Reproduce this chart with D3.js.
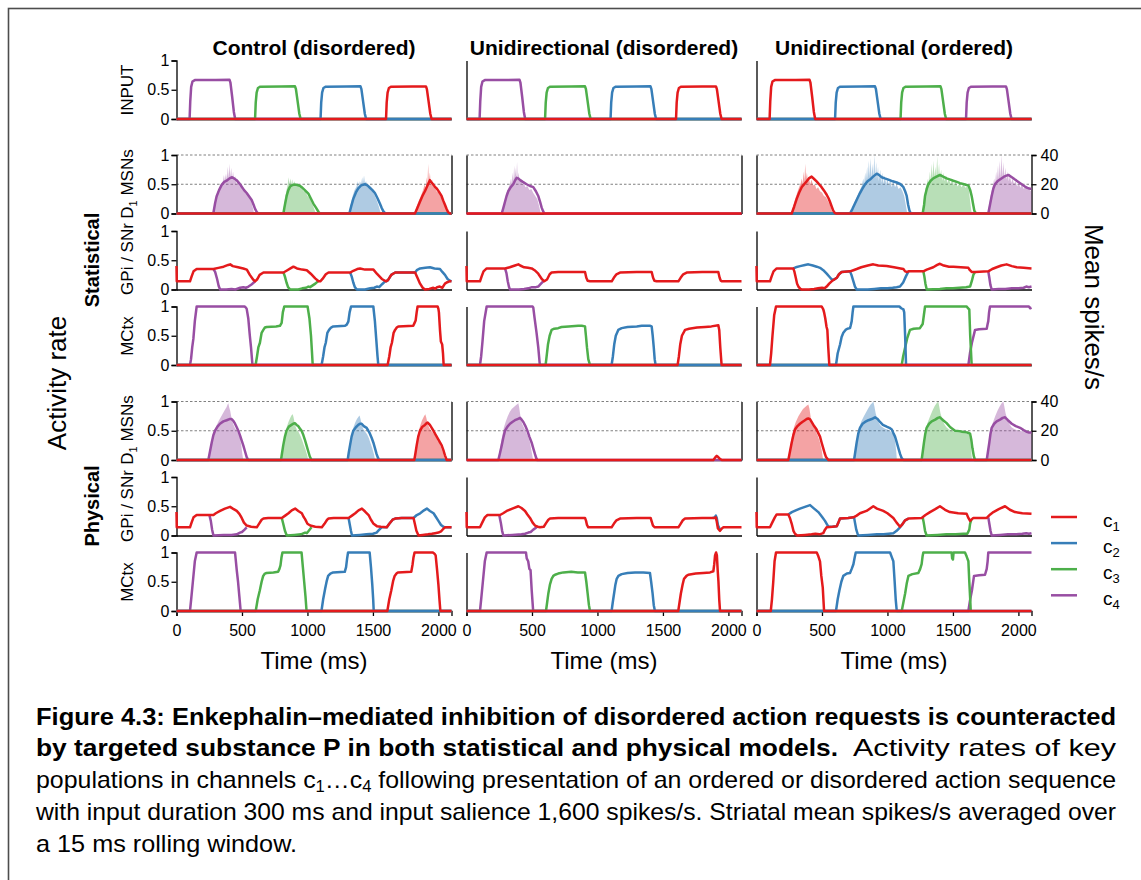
<!DOCTYPE html>
<html>
<head>
<meta charset="utf-8">
<script src="https://cdn.jsdelivr.net/npm/d3@7"></script>
<style>
  html, body { margin: 0; padding: 0; background: #fff; }
  svg { display: block; font-family: "Liberation Sans", Arial, sans-serif; }
</style>
</head>
<body>
<svg id="fig" width="1141" height="880"></svg>
<script>
// ---------- categories, ticks ----------
const channelNames = ["c1", "c2", "c3", "c4"];
const channelColors = ["#e41a1c", "#377eb8", "#4daf4a", "#984ea3"];
const columnTitles = ["Control (disordered)", "Unidirectional (disordered)", "Unidirectional (ordered)"];
const timeDomain = [0, 2100];
const timeTicks = [0, 500, 1000, 1500, 2000];
const rateTicks = [0, 0.5, 1];
const spikeTicks = [0, 20, 40];

// ---------- INPUT (activity rate, [time ms, rate]) ----------
const inCtrlC4 = [[0,0],[100,0],[105,0.3],[112,0.55],[122,0.64],[140,0.665],[300,0.668],[405,0.67],[412,0.62],[425,0.38],[438,0.12],[448,0],[2100,0]];
const inCtrlC3 = [[0,0],[600,0],[605,0.28],[612,0.45],[622,0.53],[640,0.552],[800,0.555],[905,0.558],[912,0.51],[925,0.3],[938,0.09],[948,0],[2100,0]];
const inCtrlC2 = [[0,0],[1100,0],[1105,0.28],[1112,0.45],[1122,0.53],[1140,0.552],[1300,0.556],[1405,0.558],[1412,0.51],[1425,0.3],[1438,0.09],[1448,0],[2100,0]];
const inCtrlC1 = [[0,0],[1600,0],[1605,0.28],[1612,0.45],[1622,0.53],[1640,0.552],[1800,0.555],[1905,0.557],[1912,0.51],[1925,0.3],[1938,0.09],[1948,0],[2100,0]];
const inOrdC1 = [[0,0],[100,0],[105,0.3],[112,0.55],[122,0.64],[140,0.665],[300,0.668],[405,0.67],[412,0.62],[425,0.38],[438,0.12],[448,0],[2100,0]];
const inOrdC2 = [[0,0],[600,0],[605,0.28],[612,0.45],[622,0.53],[640,0.552],[800,0.555],[905,0.558],[912,0.51],[925,0.3],[938,0.09],[948,0],[2100,0]];
const inOrdC3 = [[0,0],[1100,0],[1105,0.28],[1112,0.45],[1122,0.53],[1140,0.552],[1300,0.556],[1405,0.558],[1412,0.51],[1425,0.3],[1438,0.09],[1448,0],[2100,0]];
const inOrdC4 = [[0,0],[1600,0],[1605,0.28],[1612,0.45],[1622,0.53],[1640,0.552],[1800,0.555],[1905,0.557],[1912,0.51],[1925,0.3],[1938,0.09],[1948,0],[2100,0]];

const zeroLine = [[0,0],[2100,0]];

// ---------- Statistical model: D1 MSNs (rolling mean line + raw fill) ----------
const msnSCtrlC4 = [[0,0],[281,0],[295,0.18],[306,0.29],[325,0.4],[345,0.49],[365,0.54],[383,0.56],[405,0.6],[425,0.62],[440,0.6],[459,0.57],[478,0.52],[497,0.46],[516,0.4],[536,0.35],[555,0.29],[574,0.23],[590,0.14],[600,0.08],[612,0.03],[624,0],[2100,0]];
const msnSCtrlC3 = [[0,0],[816,0],[828,0.15],[841,0.3],[854,0.4],[867,0.46],[880,0.48],[892,0.49],[915,0.49],[935,0.48],[956,0.45],[980,0.4],[1007,0.34],[1025,0.26],[1045,0.17],[1065,0.1],[1084,0.03],[1096,0],[2100,0]];
const msnSCtrlC2 = [[0,0],[1320,0],[1335,0.13],[1350,0.25],[1370,0.36],[1388,0.43],[1410,0.48],[1439,0.5],[1458,0.48],[1477,0.44],[1496,0.4],[1515,0.35],[1535,0.26],[1553,0.17],[1568,0.09],[1579,0.04],[1596,0],[2100,0]];
const msnSCtrlC1 = [[0,0],[1821,0],[1840,0.1],[1859,0.2],[1878,0.3],[1897,0.38],[1915,0.47],[1935,0.57],[1948,0.53],[1960,0.5],[1972,0.46],[1986,0.43],[2005,0.37],[2024,0.3],[2037,0.22],[2050,0.15],[2062,0.08],[2075,0.02],[2088,0],[2100,0]];
const rawSCtrlC4 = [[275,0],[285,0.1],[300,0.25],[315,0.38],[330,0.45],[345,0.52],[355,0.55],[362,0.66],[368,0.56],[378,0.68],[384,0.58],[392,0.8],[398,0.6],[405,0.85],[410,0.62],[418,0.78],[424,0.58],[432,0.72],[440,0.55],[450,0.64],[458,0.5],[470,0.56],[480,0.46],[495,0.5],[505,0.4],[520,0.42],[530,0.34],[545,0.33],[555,0.28],[565,0.25],[575,0.17],[585,0.08],[592,0]];
const rawSCtrlC3 = [[812,0],[825,0.2],[838,0.38],[848,0.48],[856,0.62],[862,0.5],[870,0.6],[876,0.5],[884,0.58],[890,0.5],[900,0.55],[910,0.48],[925,0.52],[940,0.44],[955,0.45],[970,0.38],[985,0.38],[1000,0.3],[1015,0.27],[1030,0.2],[1045,0.12],[1058,0.04],[1064,0]];
const rawSCtrlC2 = [[1315,0],[1330,0.15],[1345,0.3],[1360,0.4],[1375,0.46],[1385,0.55],[1392,0.45],[1400,0.55],[1410,0.5],[1418,0.62],[1424,0.5],[1432,0.65],[1438,0.52],[1448,0.55],[1458,0.45],[1470,0.48],[1485,0.4],[1500,0.38],[1515,0.3],[1530,0.22],[1545,0.12],[1555,0.04],[1562,0]];
const rawSCtrlC1 = [[1815,0],[1830,0.1],[1850,0.22],[1870,0.32],[1885,0.42],[1895,0.5],[1902,0.42],[1910,0.62],[1916,0.5],[1922,0.85],[1927,0.55],[1935,0.7],[1942,0.5],[1952,0.58],[1960,0.45],[1972,0.48],[1985,0.38],[2000,0.36],[2015,0.3],[2030,0.25],[2045,0.18],[2058,0.1],[2068,0.03],[2075,0]];

const msnSUniC4 = [[0,0],[269,0],[282,0.1],[294,0.2],[306,0.3],[319,0.38],[338,0.45],[357,0.5],[370,0.56],[383,0.61],[395,0.6],[410,0.57],[430,0.54],[459,0.5],[485,0.47],[510,0.45],[530,0.38],[548,0.3],[562,0.2],[574,0.1],[585,0.04],[594,0],[2100,0]];
const rawSUniC4 = [[265,0],[280,0.12],[295,0.25],[310,0.38],[322,0.45],[332,0.5],[340,0.6],[346,0.5],[352,0.7],[358,0.55],[364,0.82],[369,0.6],[375,0.78],[380,0.58],[386,0.88],[391,0.6],[398,0.7],[405,0.55],[415,0.6],[425,0.5],[438,0.52],[450,0.45],[465,0.47],[480,0.4],[495,0.42],[510,0.35],[525,0.3],[540,0.25],[552,0.15],[562,0.05],[568,0]];

const msnSOrdC1 = [[0,0],[269,0],[288,0.12],[307,0.25],[326,0.36],[345,0.45],[364,0.5],[383,0.55],[400,0.6],[421,0.63],[440,0.59],[459,0.55],[478,0.5],[497,0.45],[516,0.39],[536,0.32],[550,0.26],[561,0.2],[574,0.12],[586,0.05],[598,0.01],[607,0],[2100,0]];
const msnSOrdC2 = [[0,0],[714,0],[733,0.08],[752,0.17],[771,0.26],[790,0.35],[810,0.43],[829,0.5],[848,0.55],[867,0.58],[890,0.63],[918,0.68],[935,0.66],[956,0.62],[980,0.6],[1007,0.58],[1040,0.55],[1071,0.53],[1100,0.5],[1122,0.45],[1135,0.38],[1147,0.3],[1158,0.15],[1168,0.05],[1178,0],[2100,0]];
const msnSOrdC3 = [[0,0],[1269,0],[1280,0.15],[1287,0.3],[1300,0.42],[1312,0.5],[1330,0.56],[1350,0.6],[1375,0.63],[1401,0.66],[1425,0.63],[1452,0.6],[1480,0.58],[1503,0.56],[1530,0.54],[1554,0.52],[1585,0.5],[1618,0.48],[1632,0.4],[1643,0.3],[1655,0.15],[1663,0.05],[1676,0],[2100,0]];
const msnSOrdC4 = [[0,0],[1770,0],[1783,0.15],[1796,0.3],[1808,0.42],[1821,0.5],[1840,0.55],[1859,0.58],[1890,0.63],[1923,0.66],[1950,0.62],[1974,0.58],[2000,0.54],[2025,0.5],[2050,0.46],[2075,0.43],[2100,0.42]];
const rawSOrdC1 = [[265,0],[280,0.12],[295,0.25],[310,0.35],[325,0.45],[338,0.52],[346,0.6],[352,0.5],[360,0.72],[366,0.55],[372,0.85],[378,0.6],[385,0.7],[392,0.55],[400,0.62],[410,0.5],[420,0.58],[432,0.48],[445,0.5],[458,0.42],[470,0.45],[485,0.38],[500,0.36],[515,0.3],[530,0.28],[545,0.22],[558,0.16],[570,0.08],[580,0.02],[585,0]];
const rawSOrdC2 = [[710,0],[730,0.1],[750,0.2],[770,0.3],[790,0.4],[805,0.48],[815,0.6],[822,0.5],[830,0.7],[836,0.55],[845,0.8],[850,0.58],[858,0.9],[864,0.62],[872,0.95],[878,0.6],[886,0.85],[892,0.62],[900,1.0],[906,0.6],[914,0.88],[920,0.58],[928,0.8],[934,0.55],[945,0.75],[952,0.52],[962,0.7],[970,0.5],[980,0.65],[990,0.5],[1000,0.6],[1010,0.48],[1022,0.58],[1032,0.45],[1045,0.55],[1058,0.45],[1070,0.5],[1085,0.42],[1100,0.45],[1115,0.38],[1128,0.3],[1140,0.15],[1148,0.04],[1152,0]];
const rawSOrdC3 = [[1265,0],[1278,0.25],[1290,0.42],[1300,0.5],[1310,0.6],[1316,0.5],[1324,0.72],[1330,0.55],[1338,0.85],[1344,0.6],[1352,0.9],[1358,0.62],[1366,0.8],[1372,0.6],[1380,0.98],[1386,0.62],[1394,0.85],[1400,0.6],[1410,0.75],[1418,0.56],[1428,0.7],[1436,0.55],[1448,0.65],[1458,0.52],[1470,0.6],[1482,0.5],[1495,0.58],[1508,0.48],[1520,0.55],[1535,0.46],[1550,0.52],[1565,0.45],[1580,0.5],[1595,0.44],[1610,0.46],[1622,0.4],[1632,0.2],[1640,0.05],[1645,0]];
const rawSOrdC4 = [[1765,0],[1780,0.2],[1795,0.38],[1808,0.5],[1815,0.6],[1822,0.5],[1830,0.72],[1836,0.55],[1844,0.82],[1850,0.58],[1858,0.9],[1864,0.6],[1872,1.0],[1878,0.62],[1886,0.88],[1892,0.6],[1900,0.78],[1908,0.58],[1918,0.72],[1926,0.55],[1936,0.65],[1945,0.52],[1956,0.6],[1966,0.5],[1978,0.55],[1990,0.46],[2003,0.52],[2015,0.44],[2028,0.5],[2040,0.42],[2055,0.46],[2068,0.4],[2080,0.44],[2092,0.38],[2100,0.4]];

// ---------- Statistical model: GPi / SNr ----------
const gpiSCtrlC1 = [[0,0.4],[2,0.14],[103,0.14],[115,0.22],[130,0.31],[154,0.35],[282,0.35],[320,0.37],[360,0.39],[395,0.42],[410,0.43],[430,0.4],[470,0.38],[510,0.36],[537,0.34],[560,0.25],[585,0.17],[600,0.14],[615,0.17],[635,0.25],[664,0.29],[817,0.29],[840,0.32],[870,0.36],[893,0.39],[920,0.36],[960,0.34],[995,0.33],[1025,0.27],[1059,0.19],[1085,0.14],[1098,0.14],[1115,0.18],[1140,0.26],[1161,0.29],[1326,0.29],[1350,0.32],[1380,0.35],[1402,0.36],[1440,0.34],[1504,0.34],[1530,0.27],[1568,0.18],[1600,0.14],[1615,0.16],[1640,0.25],[1670,0.29],[1822,0.29],[1840,0.2],[1860,0.1],[1880,0.03],[1898,0],[1930,0.01],[1961,0.03],[1975,0.01],[1990,0.04],[2010,0.05],[2030,0.03],[2050,0.1],[2063,0.12],[2085,0.14],[2100,0.14]];
const gpiSCtrlC2 = [[1326,0.29],[1338,0.22],[1350,0.12],[1362,0.04],[1377,0],[1440,0],[1480,0.02],[1510,0.03],[1530,0.05],[1548,0.04],[1570,0.09],[1593,0.14],[1600,0.14],[1615,0.16],[1640,0.25],[1670,0.29],[1822,0.29],[1835,0.33],[1860,0.36],[1900,0.37],[1936,0.38],[1970,0.36],[2012,0.35],[2030,0.3],[2050,0.25],[2070,0.18],[2088,0.15],[2100,0.14]];
const gpiSCtrlC3 = [[817,0.29],[828,0.22],[840,0.12],[852,0.04],[868,0],[930,0],[960,0.02],[990,0.03],[1007,0.05],[1020,0.04],[1040,0.07],[1060,0.1],[1080,0.14]];
const gpiSCtrlC4 = [[282,0.35],[295,0.3],[310,0.18],[322,0.06],[333,0],[380,0],[420,0.01],[450,0],[486,0.03],[510,0.04],[530,0.03],[550,0.05],[570,0.08],[590,0.12],[600,0.14]];

const gpiSUniC1 = [[0,0.4],[2,0.14],[103,0.14],[115,0.22],[130,0.31],[154,0.36],[294,0.36],[330,0.38],[370,0.41],[396,0.43],[410,0.41],[440,0.38],[470,0.37],[498,0.36],[520,0.33],[548,0.27],[575,0.18],[594,0.14],[615,0.17],[635,0.26],[650,0.29],[700,0.3],[800,0.3],[905,0.3],[915,0.2],[925,0.15],[943,0.14],[1109,0.14],[1125,0.2],[1145,0.26],[1172,0.29],[1300,0.3],[1414,0.3],[1425,0.2],[1435,0.15],[1452,0.14],[1618,0.14],[1635,0.2],[1655,0.26],[1681,0.29],[1800,0.3],[1923,0.3],[1933,0.2],[1942,0.15],[1949,0.14],[2100,0.14]];
const gpiSUniC4 = [[294,0.36],[305,0.28],[315,0.14],[325,0.04],[332,0],[400,0],[440,0.01],[472,0.02],[500,0.04],[530,0.04],[548,0.05],[565,0.09],[586,0.14]];

const gpiSOrdC1 = [[0,0.4],[2,0.14],[103,0.14],[115,0.22],[130,0.31],[154,0.36],[281,0.36],[290,0.3],[300,0.2],[310,0.1],[320,0.05],[335,0.01],[345,0],[400,0],[440,0.01],[470,0.02],[500,0.03],[520,0.02],[536,0.05],[555,0.1],[574,0.14],[594,0.17],[613,0.2],[630,0.26],[650,0.3],[714,0.31],[740,0.33],[765,0.35],[800,0.38],[850,0.41],[892,0.43],[930,0.41],[994,0.4],[1050,0.38],[1100,0.36],[1122,0.35],[1135,0.31],[1147,0.3],[1160,0.31],[1274,0.31],[1300,0.34],[1350,0.38],[1380,0.42],[1401,0.44],[1430,0.41],[1470,0.39],[1503,0.39],[1560,0.38],[1618,0.37],[1630,0.33],[1643,0.3],[1669,0.3],[1770,0.31],[1800,0.35],[1834,0.38],[1870,0.41],[1910,0.43],[1950,0.4],[1987,0.38],[2040,0.37],[2100,0.36]];
const gpiSOrdC2 = [[281,0.36],[300,0.38],[333,0.4],[370,0.42],[396,0.43],[430,0.41],[460,0.39],[485,0.37],[510,0.33],[536,0.27],[560,0.21],[575,0.17],[594,0.17],[613,0.2],[630,0.26],[650,0.3],[714,0.31],[725,0.25],[740,0.14],[752,0.05],[765,0],[850,0],[900,0.01],[950,0.02],[1000,0.02],[1040,0.03],[1070,0.04],[1096,0.05],[1120,0.12],[1140,0.22],[1160,0.31]];
const gpiSOrdC3 = [[1274,0.31],[1282,0.22],[1290,0.1],[1300,0],[1400,0.01],[1450,0.02],[1500,0.02],[1550,0.03],[1600,0.04],[1631,0.05],[1645,0.15],[1656,0.25],[1669,0.3]];
const gpiSOrdC4 = [[1770,0.31],[1778,0.2],[1786,0.08],[1796,0],[1850,0.01],[1900,0.01],[1950,0.02],[2000,0.02],[2040,0.03],[2060,0.05],[2080,0.04],[2100,0.05]];

// ---------- Statistical model: MCtx ----------
const mcxSCtrlC4 = [[0,0],[103,0],[111,0.1],[120,0.3],[129,0.45],[140,0.75],[154,1],[520,1],[530,0.98],[536,0.96],[548,0.8],[560,0.5],[569,0.3],[580,0],[2100,0]];
const mcxSCtrlC3 = [[0,0],[604,0],[615,0.15],[625,0.3],[637,0.38],[650,0.55],[663,0.6],[675,0.64],[689,0.65],[760,0.66],[790,0.67],[803,0.72],[812,0.9],[823,1],[1001,1],[1008,0.9],[1015,0.8],[1027,0.5],[1035,0.2],[1040,0],[2100,0]];
const mcxSCtrlC2 = [[0,0],[1108,0],[1120,0.15],[1130,0.3],[1140,0.38],[1152,0.55],[1165,0.6],[1180,0.64],[1197,0.66],[1287,0.67],[1300,0.69],[1312,0.74],[1322,0.9],[1333,1],[1503,1],[1515,0.75],[1525,0.45],[1535,0.15],[1541,0],[2100,0]];
const mcxSCtrlC1 = [[0,0],[1612,0],[1625,0.15],[1635,0.3],[1645,0.38],[1658,0.55],[1669,0.6],[1682,0.64],[1694,0.66],[1808,0.67],[1818,0.72],[1826,0.76],[1834,0.9],[1841,1],[1994,1],[2000,0.96],[2004,0.9],[2012,0.6],[2019,0.4],[2029,0.35],[2035,0.2],[2040,0],[2100,0]];

const mcxSUniC4 = [[0,0],[103,0],[112,0.15],[122,0.4],[135,0.75],[154,1],[505,1],[510,0.98],[520,0.8],[535,0.55],[548,0.3],[560,0],[2100,0]];
const mcxSUniC3 = [[0,0],[604,0],[612,0.15],[622,0.35],[635,0.5],[650,0.6],[670,0.62],[700,0.63],[726,0.65],[780,0.66],[853,0.67],[880,0.67],[905,0.66],[912,0.5],[920,0.3],[930,0.1],[943,0],[2100,0]];
const mcxSUniC2 = [[0,0],[1108,0],[1118,0.15],[1128,0.35],[1140,0.5],[1159,0.6],[1185,0.63],[1230,0.65],[1300,0.66],[1338,0.67],[1400,0.67],[1414,0.66],[1422,0.5],[1430,0.3],[1437,0.1],[1444,0],[2100,0]];
const mcxSUniC1 = [[0,0],[1612,0],[1622,0.15],[1632,0.35],[1645,0.5],[1669,0.6],[1700,0.62],[1760,0.64],[1822,0.65],[1870,0.66],[1923,0.68],[1930,0.6],[1938,0.3],[1948,0],[2100,0]];

const mcxSOrdC1 = [[0,0],[103,0],[112,0.2],[122,0.5],[135,0.85],[149,1],[498,1],[510,0.95],[516,0.9],[525,0.8],[535,0.65],[541,0.6],[548,0.3],[556,0],[2100,0]];
const mcxSOrdC2 = [[0,0],[607,0],[620,0.2],[638,0.35],[650,0.48],[663,0.55],[680,0.6],[694,0.62],[714,0.63],[720,0.68],[727,0.75],[734,0.9],[740,1],[1091,1],[1105,0.97],[1122,0.95],[1128,0.9],[1135,0.5],[1142,0],[2100,0]];
const mcxSOrdC3 = [[0,0],[1109,0],[1120,0.15],[1135,0.3],[1150,0.45],[1172,0.6],[1200,0.62],[1248,0.63],[1260,0.67],[1269,0.7],[1278,0.85],[1287,1],[1605,1],[1615,0.97],[1625,0.95],[1632,0.5],[1643,0],[2100,0]];
const mcxSOrdC4 = [[0,0],[1618,0],[1630,0.2],[1645,0.38],[1669,0.6],[1700,0.61],[1758,0.62],[1765,0.7],[1770,0.75],[1776,0.9],[1783,1],[2080,1],[2090,0.97],[2100,0.98]];

// ---------- Physical model: D1 MSNs ----------
const msnPCtrlC4 = [[0,0],[243,0],[256,0.15],[269,0.3],[281,0.42],[294,0.5],[313,0.57],[332,0.62],[358,0.66],[383,0.68],[405,0.7],[421,0.7],[434,0.67],[447,0.62],[460,0.56],[472,0.5],[485,0.42],[498,0.33],[510,0.25],[523,0.15],[536,0.05],[548,0],[2100,0]];
const msnPCtrlC3 = [[0,0],[798,0],[806,0.12],[815,0.25],[828,0.4],[840,0.5],[858,0.57],[878,0.6],[891,0.62],[904,0.63],[917,0.6],[929,0.58],[942,0.54],[955,0.5],[968,0.43],[980,0.35],[993,0.25],[1006,0.15],[1018,0.06],[1031,0],[2100,0]];
const msnPCtrlC2 = [[0,0],[1307,0],[1315,0.12],[1325,0.25],[1337,0.4],[1350,0.5],[1370,0.56],[1388,0.6],[1401,0.62],[1414,0.62],[1430,0.58],[1452,0.55],[1465,0.5],[1477,0.45],[1490,0.38],[1503,0.3],[1516,0.2],[1528,0.1],[1540,0.03],[1548,0],[2100,0]];
const msnPCtrlC1 = [[0,0],[1816,0],[1825,0.12],[1834,0.25],[1846,0.4],[1859,0.5],[1878,0.57],[1897,0.6],[1910,0.63],[1918,0.64],[1935,0.6],[1949,0.55],[1962,0.5],[1974,0.45],[1987,0.4],[2000,0.35],[2012,0.3],[2025,0.25],[2038,0.17],[2050,0.08],[2063,0],[2100,0]];
const rawPCtrlC4 = [[240,0],[260,0.2],[280,0.42],[300,0.56],[320,0.66],[340,0.74],[355,0.8],[370,0.86],[382,0.9],[390,0.95],[396,0.97],[402,0.9],[410,0.84],[420,0.72],[432,0.62],[445,0.55],[460,0.5],[475,0.44],[485,0.38],[495,0.25],[503,0.1],[510,0]];
const rawPCtrlC3 = [[795,0],[810,0.2],[825,0.4],[840,0.55],[855,0.65],[868,0.72],[880,0.77],[888,0.78],[895,0.72],[905,0.6],[918,0.52],[932,0.48],[945,0.42],[958,0.35],[970,0.27],[985,0.18],[998,0.08],[1006,0]];
const rawPCtrlC2 = [[1304,0],[1320,0.22],[1335,0.42],[1350,0.55],[1365,0.64],[1378,0.7],[1390,0.74],[1398,0.76],[1405,0.7],[1415,0.6],[1428,0.52],[1442,0.48],[1455,0.44],[1468,0.38],[1480,0.3],[1495,0.2],[1508,0.1],[1516,0]];
const rawPCtrlC1 = [[1812,0],[1830,0.25],[1845,0.45],[1860,0.58],[1875,0.68],[1890,0.75],[1900,0.78],[1908,0.72],[1918,0.62],[1930,0.55],[1945,0.5],[1960,0.46],[1975,0.42],[1990,0.36],[2005,0.3],[2020,0.22],[2035,0.12],[2045,0.04],[2050,0]];

const msnPUniC4 = [[0,0],[243,0],[256,0.12],[269,0.25],[281,0.38],[294,0.5],[313,0.57],[332,0.62],[350,0.65],[370,0.68],[390,0.7],[409,0.72],[421,0.69],[434,0.65],[450,0.58],[465,0.5],[480,0.4],[497,0.3],[510,0.2],[523,0.1],[533,0.03],[541,0],[2100,0]];
const msnPUniC1 = [[0,0],[1885,0],[1895,0.03],[1905,0.06],[1911,0.07],[1922,0.05],[1935,0.02],[1950,0],[2100,0]];
const rawPUniC4 = [[240,0],[255,0.18],[270,0.38],[285,0.55],[300,0.66],[315,0.75],[330,0.82],[345,0.87],[360,0.9],[375,0.93],[385,0.95],[396,0.97],[402,0.9],[412,0.75],[425,0.62],[440,0.55],[455,0.48],[470,0.4],[485,0.3],[497,0.15],[506,0.04],[510,0]];

const msnPOrdC1 = [[0,0],[243,0],[256,0.15],[269,0.3],[281,0.42],[294,0.52],[313,0.58],[332,0.62],[350,0.65],[370,0.68],[383,0.7],[396,0.71],[408,0.7],[421,0.65],[440,0.58],[459,0.52],[472,0.46],[485,0.4],[497,0.3],[510,0.2],[520,0.12],[531,0.05],[549,0],[2100,0]];
const msnPOrdC2 = [[0,0],[745,0],[755,0.15],[765,0.3],[777,0.45],[790,0.55],[810,0.62],[829,0.65],[855,0.68],[880,0.7],[905,0.73],[925,0.7],[943,0.65],[965,0.6],[994,0.57],[1015,0.55],[1033,0.52],[1045,0.46],[1058,0.4],[1071,0.3],[1084,0.2],[1097,0.1],[1109,0.03],[1122,0],[2100,0]];
const msnPOrdC3 = [[0,0],[1261,0],[1270,0.15],[1279,0.3],[1289,0.45],[1299,0.55],[1318,0.62],[1338,0.66],[1365,0.69],[1385,0.72],[1401,0.73],[1425,0.68],[1452,0.63],[1480,0.56],[1516,0.5],[1550,0.49],[1580,0.48],[1610,0.47],[1631,0.45],[1640,0.35],[1649,0.2],[1660,0.06],[1669,0],[2100,0]];
const msnPOrdC4 = [[0,0],[1758,0],[1768,0.15],[1778,0.3],[1787,0.45],[1796,0.55],[1815,0.62],[1834,0.66],[1860,0.69],[1880,0.72],[1898,0.73],[1920,0.68],[1949,0.62],[1980,0.58],[2013,0.55],[2040,0.51],[2064,0.48],[2080,0.47],[2100,0.47]];
const rawPOrdC1 = [[240,0],[255,0.2],[270,0.4],[285,0.55],[300,0.65],[320,0.75],[340,0.82],[355,0.87],[370,0.9],[385,0.93],[396,0.95],[404,0.88],[415,0.72],[428,0.62],[442,0.55],[456,0.48],[470,0.4],[485,0.3],[497,0.18],[505,0.06],[510,0]];
const rawPOrdC2 = [[740,0],[755,0.22],[770,0.42],[785,0.56],[800,0.66],[820,0.75],[840,0.83],[858,0.9],[872,0.95],[885,0.98],[892,1.0],[900,0.92],[910,0.8],[922,0.7],[935,0.63],[950,0.58],[968,0.55],[985,0.53],[1000,0.52],[1018,0.5],[1035,0.46],[1050,0.4],[1060,0.3],[1068,0.12],[1072,0]];
const rawPOrdC3 = [[1258,0],[1270,0.22],[1282,0.42],[1295,0.56],[1310,0.66],[1328,0.76],[1345,0.85],[1360,0.92],[1375,0.97],[1388,1.0],[1395,0.92],[1405,0.8],[1418,0.7],[1432,0.62],[1450,0.56],[1470,0.52],[1490,0.5],[1515,0.48],[1540,0.47],[1570,0.46],[1600,0.45],[1625,0.44],[1635,0.3],[1642,0.1],[1646,0]];
const rawPOrdC4 = [[1755,0],[1768,0.22],[1780,0.42],[1793,0.56],[1808,0.66],[1825,0.76],[1842,0.85],[1858,0.92],[1872,0.97],[1885,1.0],[1892,0.92],[1902,0.8],[1915,0.7],[1930,0.62],[1948,0.56],[1968,0.53],[1990,0.51],[2015,0.5],[2040,0.48],[2065,0.47],[2085,0.47],[2100,0.46]];

// ---------- Physical model: GPi / SNr ----------
const gpiPCtrlC1 = [[0,0.4],[2,0.14],[103,0.14],[115,0.22],[130,0.31],[154,0.35],[282,0.35],[300,0.38],[333,0.42],[370,0.46],[409,0.49],[430,0.46],[460,0.42],[480,0.37],[498,0.3],[515,0.22],[536,0.17],[570,0.15],[613,0.14],[630,0.2],[650,0.27],[664,0.29],[700,0.3],[804,0.3],[830,0.34],[855,0.38],[880,0.43],[906,0.46],[930,0.42],[957,0.38],[970,0.32],[982,0.28],[1000,0.2],[1021,0.17],[1060,0.15],[1110,0.14],[1130,0.2],[1150,0.27],[1161,0.29],[1200,0.3],[1314,0.3],[1340,0.34],[1365,0.38],[1390,0.43],[1416,0.46],[1440,0.41],[1467,0.35],[1485,0.27],[1505,0.2],[1530,0.16],[1560,0.15],[1606,0.14],[1625,0.2],[1650,0.27],[1670,0.29],[1720,0.3],[1810,0.3],[1820,0.2],[1832,0.08],[1848,0],[1880,0.01],[1920,0.02],[1950,0.03],[1975,0.04],[2000,0.05],[2020,0.07],[2040,0.12],[2050,0.14],[2100,0.14]];
const gpiPCtrlC2 = [[1314,0.3],[1322,0.2],[1332,0.08],[1340,0],[1400,0.01],[1450,0.02],[1500,0.03],[1528,0.05],[1545,0.09],[1566,0.14],[1606,0.14],[1625,0.2],[1650,0.27],[1670,0.29],[1720,0.3],[1810,0.3],[1835,0.35],[1861,0.38],[1890,0.43],[1912,0.46],[1935,0.42],[1963,0.38],[1980,0.32],[2000,0.25],[2020,0.18],[2038,0.15],[2050,0.14],[2100,0.14]];
const gpiPCtrlC3 = [[804,0.3],[815,0.2],[828,0.08],[842,0],[900,0.01],[950,0.02],[982,0.05],[995,0.04],[1010,0.08],[1031,0.14]];
const gpiPCtrlC4 = [[251,0.35],[262,0.25],[272,0.1],[282,0],[360,0.01],[420,0.01],[460,0.02],[485,0.05],[500,0.06],[520,0.1],[536,0.14]];

const gpiPUniC1 = [[0,0.4],[2,0.14],[103,0.14],[120,0.22],[140,0.31],[160,0.35],[256,0.35],[280,0.38],[307,0.42],[350,0.46],[396,0.5],[420,0.47],[447,0.42],[465,0.36],[485,0.3],[505,0.22],[523,0.17],[545,0.15],[561,0.14],[590,0.15],[610,0.22],[625,0.27],[638,0.29],[700,0.3],[800,0.3],[905,0.3],[913,0.25],[920,0.18],[930,0.14],[1108,0.14],[1125,0.2],[1145,0.26],[1172,0.29],[1300,0.3],[1406,0.3],[1414,0.24],[1424,0.17],[1438,0.14],[1618,0.14],[1635,0.2],[1652,0.26],[1669,0.29],[1800,0.3],[1895,0.3],[1904,0.31],[1910,0.25],[1920,0.12],[1936,0.08],[1950,0.12],[1962,0.14],[2100,0.14]];
const gpiPUniC2 = [[1880,0.3],[1895,0.31],[1904,0.34],[1911,0.3],[1920,0.18],[1930,0.12],[1940,0.13]];
const gpiPUniC4 = [[250,0.35],[262,0.22],[272,0.08],[281,0],[350,0.01],[420,0.02],[447,0.03],[472,0.05],[490,0.06],[510,0.1],[536,0.14]];

const gpiPOrdC1 = [[0,0.4],[2,0.14],[103,0.14],[120,0.22],[140,0.31],[154,0.36],[243,0.36],[255,0.3],[269,0.2],[282,0.08],[294,0.03],[310,0],[370,0.01],[420,0.02],[450,0.03],[480,0.02],[510,0.04],[523,0.1],[536,0.14],[580,0.15],[613,0.16],[625,0.22],[638,0.29],[700,0.3],[740,0.31],[765,0.34],[790,0.38],[840,0.42],[892,0.5],[920,0.46],[968,0.42],[1000,0.38],[1045,0.3],[1070,0.22],[1096,0.15],[1110,0.18],[1135,0.26],[1160,0.29],[1261,0.3],[1290,0.35],[1325,0.4],[1365,0.45],[1401,0.5],[1440,0.44],[1477,0.4],[1540,0.38],[1605,0.37],[1618,0.3],[1631,0.25],[1645,0.28],[1656,0.3],[1758,0.3],[1785,0.36],[1809,0.4],[1850,0.45],[1898,0.5],[1935,0.44],[1974,0.4],[2030,0.38],[2100,0.37]];
const gpiPOrdC2 = [[243,0.36],[270,0.4],[300,0.43],[332,0.46],[370,0.49],[409,0.52],[440,0.46],[472,0.4],[500,0.32],[523,0.25],[536,0.2],[549,0.15],[580,0.15],[613,0.16],[625,0.22],[638,0.29],[700,0.3],[745,0.31],[752,0.22],[762,0.1],[776,0],[850,0.01],[920,0.02],[970,0.02],[1010,0.03],[1045,0.04],[1070,0.08],[1096,0.14],[1110,0.18],[1135,0.26],[1160,0.29]];
const gpiPOrdC3 = [[1269,0.31],[1277,0.22],[1287,0.08],[1299,0],[1380,0.01],[1450,0.02],[1520,0.02],[1580,0.03],[1610,0.03],[1625,0.1],[1631,0.2],[1640,0.27]];
const gpiPOrdC4 = [[1770,0.31],[1778,0.2],[1787,0.08],[1796,0],[1860,0.01],[1920,0.02],[1980,0.02],[2030,0.03],[2060,0.04],[2080,0.03],[2100,0.04]];

// ---------- Physical model: MCtx ----------
const mcxPCtrlC4 = [[0,0],[103,0],[112,0.2],[125,0.5],[140,0.85],[154,1],[447,1],[460,0.7],[470,0.5],[480,0.25],[490,0],[2100,0]];
const mcxPCtrlC3 = [[0,0],[605,0],[620,0.2],[636,0.35],[650,0.5],[662,0.6],[675,0.64],[687,0.65],[740,0.66],[776,0.67],[786,0.72],[794,0.78],[802,0.92],[809,1],[955,1],[965,0.75],[975,0.5],[985,0.25],[993,0],[2100,0]];
const mcxPCtrlC2 = [[0,0],[1107,0],[1120,0.2],[1135,0.38],[1148,0.52],[1158,0.6],[1175,0.64],[1196,0.66],[1285,0.67],[1295,0.75],[1303,0.9],[1310,1],[1475,1],[1485,0.75],[1495,0.45],[1502,0.2],[1506,0],[2100,0]];
const mcxPCtrlC1 = [[0,0],[1610,0],[1625,0.2],[1640,0.35],[1655,0.52],[1666,0.6],[1680,0.64],[1691,0.66],[1793,0.67],[1803,0.8],[1810,0.92],[1818,1],[1958,1],[1970,0.98],[1979,0.95],[1990,0.7],[2000,0.45],[2008,0.2],[2015,0],[2100,0]];

const mcxPUniC4 = [[0,0],[103,0],[112,0.2],[125,0.5],[140,0.85],[154,1],[454,1],[460,0.9],[471,0.85],[480,0.72],[489,0.7],[498,0.35],[509,0],[2100,0]];
const mcxPUniC3 = [[0,0],[607,0],[616,0.15],[625,0.3],[637,0.45],[650,0.55],[663,0.6],[676,0.62],[700,0.64],[740,0.66],[800,0.67],[850,0.66],[905,0.66],[915,0.5],[925,0.3],[935,0.1],[943,0],[2100,0]];
const mcxPUniC2 = [[0,0],[1108,0],[1117,0.15],[1127,0.3],[1137,0.45],[1147,0.55],[1160,0.6],[1185,0.63],[1230,0.65],[1287,0.66],[1350,0.66],[1401,0.65],[1410,0.5],[1421,0.3],[1430,0.1],[1439,0],[2100,0]];
const mcxPUniC1 = [[0,0],[1617,0],[1627,0.15],[1637,0.3],[1650,0.45],[1661,0.55],[1680,0.6],[1694,0.62],[1750,0.64],[1808,0.65],[1860,0.66],[1885,0.68],[1892,0.8],[1898,0.95],[1906,1],[1912,0.95],[1918,0.7],[1924,0.5],[1930,0.2],[1936,0],[2100,0]];

const mcxPOrdC1 = [[0,0],[109,0],[118,0.2],[128,0.5],[138,0.85],[149,1],[460,1],[470,0.95],[485,0.85],[495,0.6],[506,0.4],[516,0],[2100,0]];
const mcxPOrdC2 = [[0,0],[607,0],[620,0.2],[633,0.35],[648,0.5],[663,0.6],[690,0.64],[714,0.65],[727,0.72],[740,0.8],[750,0.92],[758,1],[1020,1],[1033,0.92],[1045,0.85],[1055,0.5],[1063,0.2],[1071,0],[2100,0]];
const mcxPOrdC3 = [[0,0],[1109,0],[1122,0.15],[1135,0.3],[1148,0.48],[1160,0.6],[1190,0.63],[1236,0.65],[1250,0.72],[1261,0.8],[1268,0.93],[1274,1],[1490,1],[1494,0.9],[1500,0.88],[1505,1],[1592,1],[1605,0.93],[1618,0.85],[1625,0.5],[1632,0.2],[1636,0]];
const mcxPOrdC4 = [[0,0],[1618,0],[1632,0.2],[1645,0.35],[1661,0.6],[1700,0.61],[1745,0.62],[1758,0.72],[1765,0.85],[1770,1],[2100,1]];

// ---------- panel table: rows x columns x channels (c1..c4) ----------
const rowKinds = ["input", "msn", "gpi", "mctx", "msn", "gpi", "mctx"];
const lineGrid = [
  [[inCtrlC1, inCtrlC2, inCtrlC3, inCtrlC4], [inCtrlC1, inCtrlC2, inCtrlC3, inCtrlC4], [inOrdC1, inOrdC2, inOrdC3, inOrdC4]],
  [[msnSCtrlC1, msnSCtrlC2, msnSCtrlC3, msnSCtrlC4], [zeroLine, null, null, msnSUniC4], [msnSOrdC1, msnSOrdC2, msnSOrdC3, msnSOrdC4]],
  [[gpiSCtrlC1, gpiSCtrlC2, gpiSCtrlC3, gpiSCtrlC4], [gpiSUniC1, null, null, gpiSUniC4], [gpiSOrdC1, gpiSOrdC2, gpiSOrdC3, gpiSOrdC4]],
  [[mcxSCtrlC1, mcxSCtrlC2, mcxSCtrlC3, mcxSCtrlC4], [mcxSUniC1, mcxSUniC2, mcxSUniC3, mcxSUniC4], [mcxSOrdC1, mcxSOrdC2, mcxSOrdC3, mcxSOrdC4]],
  [[msnPCtrlC1, msnPCtrlC2, msnPCtrlC3, msnPCtrlC4], [msnPUniC1, null, null, msnPUniC4], [msnPOrdC1, msnPOrdC2, msnPOrdC3, msnPOrdC4]],
  [[gpiPCtrlC1, gpiPCtrlC2, gpiPCtrlC3, gpiPCtrlC4], [gpiPUniC1, gpiPUniC2, null, gpiPUniC4], [gpiPOrdC1, gpiPOrdC2, gpiPOrdC3, gpiPOrdC4]],
  [[mcxPCtrlC1, mcxPCtrlC2, mcxPCtrlC3, mcxPCtrlC4], [mcxPUniC1, mcxPUniC2, mcxPUniC3, mcxPUniC4], [mcxPOrdC1, mcxPOrdC2, mcxPOrdC3, mcxPOrdC4]]
];
const fillGrid = {
  1: [[rawSCtrlC1, rawSCtrlC2, rawSCtrlC3, rawSCtrlC4], [null, null, null, rawSUniC4], [rawSOrdC1, rawSOrdC2, rawSOrdC3, rawSOrdC4]],
  4: [[rawPCtrlC1, rawPCtrlC2, rawPCtrlC3, rawPCtrlC4], [null, null, null, rawPUniC4], [rawPOrdC1, rawPOrdC2, rawPOrdC3, rawPOrdC4]]
};

// ---------- layout ----------
const colLeft = [176.5, 466.5, 756.5];
const panelW = 275, panelH = 58.5;
const rowBottom = [119, 213.5, 289.5, 365, 460, 535.5, 611];
const tickFont = 16;

const svg = d3.select("#fig");

// figure frame
svg.append("rect")
  .attr("x", 8.5).attr("y", 8.5).attr("width", 1200).attr("height", 1000)
  .attr("fill", "none").attr("stroke", "#4d4d4d").attr("stroke-width", 1.6);

const x = d3.scaleLinear().domain(timeDomain).range([0, panelW]);
const y = d3.scaleLinear().domain([0, 1]).range([panelH, 0]);
const ySpk = d3.scaleLinear().domain([0, 40]).range([panelH, 0]);
const line = d3.line().x(d => x(d[0])).y(d => y(d[1]));
const area = d3.area().x(d => x(d[0])).y0(y(0)).y1(d => y(d[1]));

function styleAxis(g) {
  g.attr("font-size", tickFont).attr("font-family", null);
  g.selectAll(".domain").attr("stroke", "#000").attr("stroke-width", 1.3);
  g.selectAll(".tick line").attr("stroke", "#000").attr("stroke-width", 1.3);
  g.selectAll(".tick text").attr("fill", "#000");
}

for (let r = 0; r < 7; r++) {
  for (let c = 0; c < 3; c++) {
    const g = svg.append("g")
      .attr("transform", `translate(${colLeft[c]},${rowBottom[r] - panelH})`);
    const kind = rowKinds[r];

    if (kind === "msn") {
      g.selectAll("line.ref").data([0.5, 1]).join("line")
        .attr("class", "ref")
        .attr("x1", 0).attr("x2", panelW)
        .attr("y1", d => y(d)).attr("y2", d => y(d))
        .attr("stroke", "#808080").attr("stroke-width", 1)
        .attr("stroke-dasharray", "2.5,2");
      const right = d3.axisRight(ySpk).tickSizeOuter(0);
      if (c === 2) right.tickValues(spikeTicks).tickSize(5).tickPadding(4);
      else right.tickValues([]);
      g.append("g").attr("transform", `translate(${panelW},0)`).call(right).call(styleAxis);
    }

    const left = d3.axisLeft(y).tickSizeOuter(0);
    if (c === 0) left.tickValues(rateTicks).tickSize(5).tickPadding(2).tickFormat(d => d === 0.5 ? "0.5" : String(d));
    else left.tickValues([]);
    g.append("g").call(left).call(styleAxis);

    const bottom = d3.axisBottom(x).tickSizeOuter(0);
    if (r === 6) bottom.tickValues(timeTicks).tickSize(5).tickPadding(9).tickFormat(d3.format("d"));
    else bottom.tickValues([]);
    g.append("g").attr("transform", `translate(0,${panelH})`).call(bottom).call(styleAxis);

    // raw striatal rate, shaded
    if (fillGrid[r]) {
      for (let k = 3; k >= 0; k--) {
        const f = fillGrid[r][c][k];
        if (!f) continue;
        g.append("path").datum(f)
          .attr("d", area)
          .attr("fill", channelColors[k]).attr("fill-opacity", 0.4)
          .attr("stroke", "none");
      }
    }
    // channel traces, c1 drawn last (on top)
    for (let k = 3; k >= 0; k--) {
      const s = lineGrid[r][c][k];
      if (!s) continue;
      g.append("path").datum(s)
        .attr("d", line)
        .attr("fill", "none")
        .attr("stroke", channelColors[k])
        .attr("stroke-width", 2.5)
        .attr("stroke-linejoin", "round");
    }
  }
}

// column titles
svg.selectAll("text.coltitle").data(columnTitles).join("text")
  .attr("class", "coltitle")
  .attr("x", (d, i) => colLeft[i] + panelW / 2)
  .attr("y", 55)
  .attr("text-anchor", "middle")
  .attr("font-size", 21).attr("font-weight", "bold")
  .text(d => d);

// x-axis titles
svg.selectAll("text.xtitle").data(columnTitles).join("text")
  .attr("class", "xtitle")
  .attr("x", (d, i) => colLeft[i] + panelW / 2)
  .attr("y", 669)
  .attr("text-anchor", "middle")
  .attr("font-size", 24)
  .text("Time (ms)");

// rotated row labels
function vLabel(cx, cy, size, weight) {
  return svg.append("text")
    .attr("transform", `translate(${cx},${cy}) rotate(-90)`)
    .attr("text-anchor", "middle")
    .attr("font-size", size)
    .attr("font-weight", weight || "normal");
}
vLabel(133, 90, 17).text("INPUT");
[184, 430].forEach(cy => {
  const t = vLabel(133, cy, 17);
  t.append("tspan").text("D");
  t.append("tspan").attr("font-size", 11).attr("dy", 4).text("1");
  t.append("tspan").attr("dy", -4).text(" MSNs");
});
[259, 506].forEach(cy => vLabel(133, cy, 17).text("GPi / SNr"));
[336, 582].forEach(cy => vLabel(133, cy, 17).text("MCtx"));
vLabel(99, 260, 20, "bold").text("Statistical");
vLabel(99, 506, 20, "bold").text("Physical");
vLabel(66, 383, 26).text("Activity rate");

svg.append("text")
  .attr("transform", "translate(1085,307) rotate(90)")
  .attr("text-anchor", "middle")
  .attr("font-size", 26)
  .text("Mean spikes/s");

// legend
const legend = svg.append("g");
channelNames.forEach((name, i) => {
  const ly = 517 + 26.1 * i;
  legend.append("line")
    .attr("x1", 1051).attr("x2", 1077).attr("y1", ly).attr("y2", ly)
    .attr("stroke", channelColors[i]).attr("stroke-width", 2.5);
  const t = legend.append("text").attr("x", 1103).attr("y", ly + 10).attr("font-size", 19);
  t.append("tspan").text(name.charAt(0));
  t.append("tspan").attr("font-size", 13).attr("dy", 4).text(name.slice(1));
});

// caption (condensed setting, justified to the text block)
const cap = svg.append("g").attr("font-size", 24).attr("fill", "#000");
cap.append("text").attr("x", 36).attr("y", 725)
  .attr("font-weight", "bold")
  .attr("textLength", 1080).attr("lengthAdjust", "spacingAndGlyphs")
  .text("Figure 4.3: Enkephalin\u2013mediated inhibition of disordered action requests is counteracted");
cap.append("text").attr("x", 36).attr("y", 756)
  .attr("font-weight", "bold")
  .attr("textLength", 802).attr("lengthAdjust", "spacingAndGlyphs")
  .text("by targeted substance P in both statistical and physical models.");
cap.append("text").attr("x", 853).attr("y", 756)
  .attr("textLength", 263).attr("lengthAdjust", "spacingAndGlyphs")
  .text("Activity rates of key");
const l3 = cap.append("text").attr("x", 36).attr("y", 788)
  .attr("textLength", 1080).attr("lengthAdjust", "spacingAndGlyphs");
l3.append("tspan").text("populations in channels c");
l3.append("tspan").attr("font-size", 16).attr("dy", 4).text("1");
l3.append("tspan").attr("dy", -4).text("\u2026c");
l3.append("tspan").attr("font-size", 16).attr("dy", 4).text("4");
l3.append("tspan").attr("dy", -4).text(" following presentation of an ordered or disordered action sequence");
cap.append("text").attr("x", 36).attr("y", 820)
  .attr("textLength", 1080).attr("lengthAdjust", "spacingAndGlyphs")
  .text("with input duration 300 ms and input salience 1,600 spikes/s. Striatal mean spikes/s averaged over");
cap.append("text").attr("x", 36).attr("y", 852)
  .attr("textLength", 261).attr("lengthAdjust", "spacingAndGlyphs")
  .text("a 15 ms rolling window.");
</script>
</body>
</html>
